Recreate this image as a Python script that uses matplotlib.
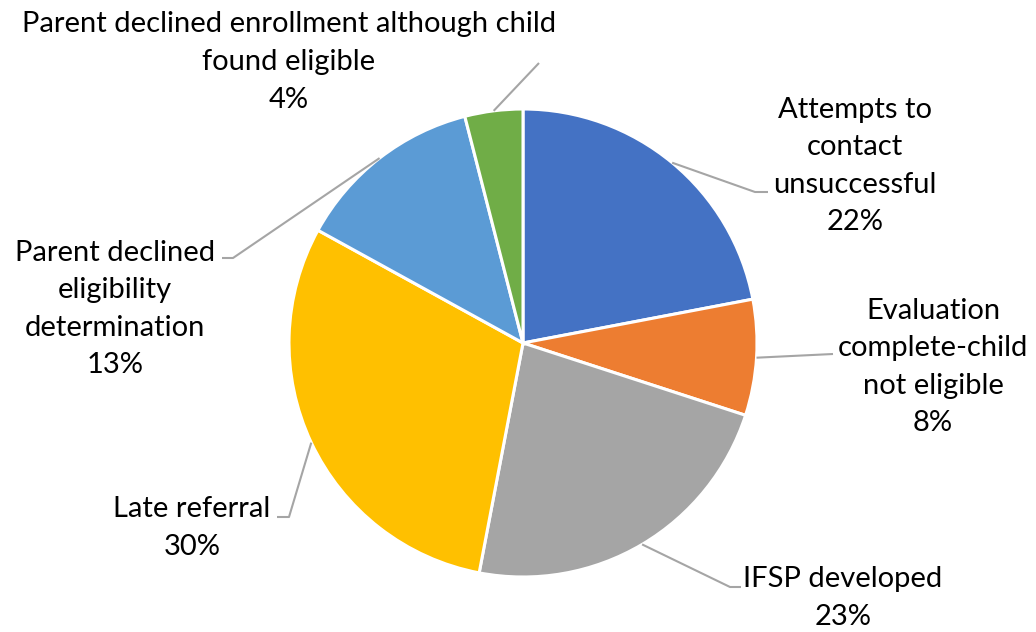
import numpy as np
import matplotlib
matplotlib.use("Agg")
import matplotlib.pyplot as plt

categories = [
    "Attempts to\ncontact\nunsuccessful",
    "Evaluation\ncomplete-child\nnot eligible",
    "IFSP developed",
    "Late referral",
    "Parent declined\neligibility\ndetermination",
    "Parent declined enrollment although child\nfound eligible",
]
values = [22, 8, 23, 30, 13, 4]
colors = ["#4472C4", "#ED7D31", "#A5A5A5", "#FFC000", "#5B9BD5", "#70AD47"]

# label layout in pixel coords (x, y from top): text centre, leader elbow, leader end
label_pos = [(855, 166), (933, 367), (843, 598), (192, 528), (115, 309), (289, 62)]
elbows = [(755, 192), (833, 354), (730, 587), (289, 517), (233, 258), (539, 63)]
ends = [(768, 192), (833, 354), (741, 587), (277, 517), (222, 258), (539, 63)]

W, H = 1036, 632
cx, cy, r = 523, 343, 234

plt.rcParams["font.family"] = ["Lato", "DejaVu Sans"]

fig = plt.figure(figsize=(W / 100, H / 100), dpi=100)
ax = fig.add_axes([0, 0, 1, 1])

wedges, _ = ax.pie(values, colors=colors, startangle=90, counterclock=False,
                   center=(cx, H - cy), radius=r,
                   wedgeprops=dict(edgecolor="white", linewidth=2.2))

for w, cat, v, (tx, ty), (ex, ey), (fx, fy) in zip(wedges, categories, values,
                                                   label_pos, elbows, ends):
    mid = np.deg2rad((w.theta1 + w.theta2) / 2)
    sx = cx + r * np.cos(mid)
    sy = (H - cy) + r * np.sin(mid)
    ax.plot([sx, ex, fx], [sy, H - ey, H - fy], color="#A5A5A5", lw=1.5,
            solid_capstyle="butt")
    ax.text(tx, H - ty, f"{cat}\n{v}%", ha="center", va="center",
            fontsize=21, color="black", linespacing=1.55)

ax.set_xlim(0, W)
ax.set_ylim(0, H)
ax.set_aspect("equal")
ax.axis("off")

fig.savefig("out.png", dpi=100)
